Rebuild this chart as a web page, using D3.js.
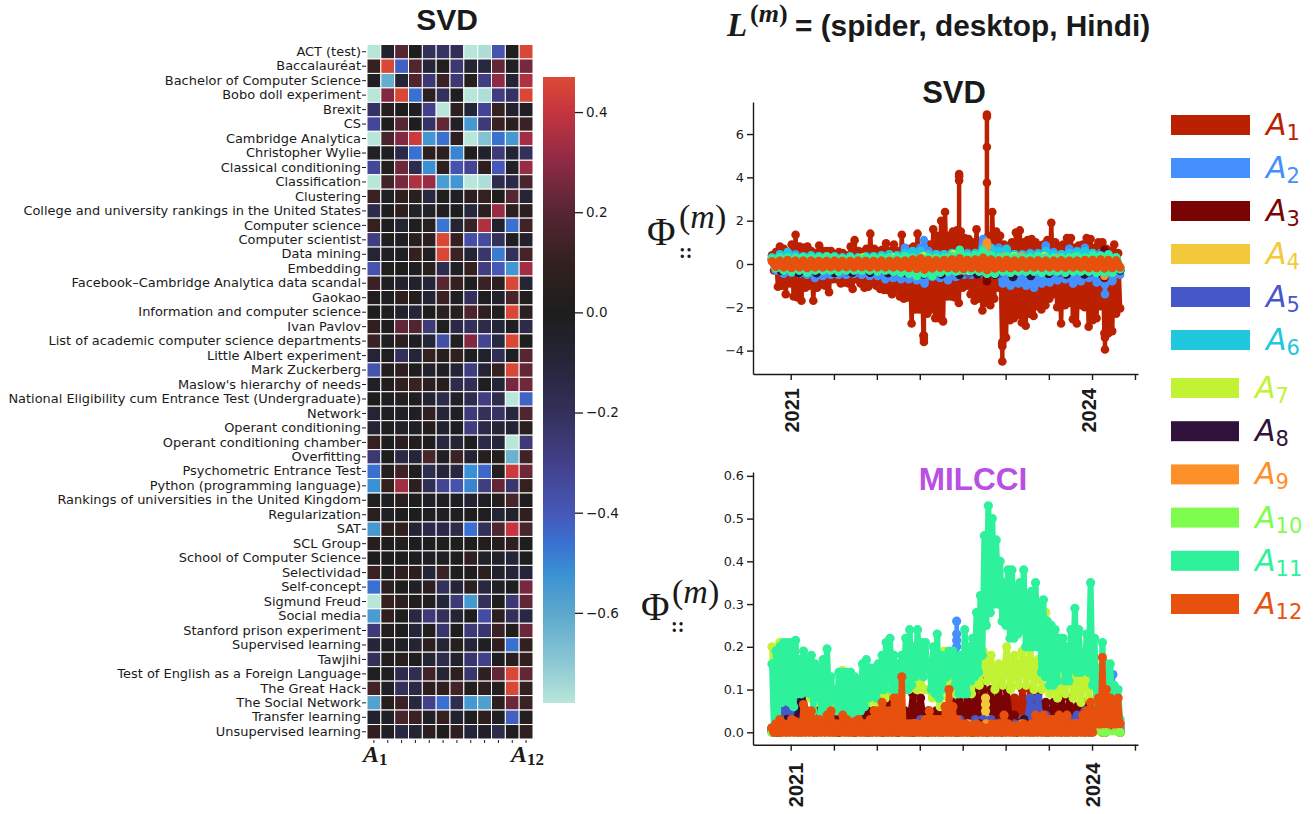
<!DOCTYPE html>
<html>
<head>
<meta charset="utf-8">
<style>
    body { margin: 0; background: #fff; }
    text { fill: #1a1a1a; }
    .axis path, .axis line { stroke: #1a1a1a; }
</style>
<script src="https://cdn.jsdelivr.net/npm/d3@7"></script>
</head>
<body>
<div id="chart"></div>
<script>
// ---- heatmap data
var terms = ["ACT (test)", "Baccalauréat", "Bachelor of Computer Science", "Bobo doll experiment", "Brexit", "CS",
    "Cambridge Analytica", "Christopher Wylie", "Classical conditioning", "Classification", "Clustering",
    "College and university rankings in the United States", "Computer science", "Computer scientist", "Data mining",
    "Embedding", "Facebook–Cambridge Analytica data scandal", "Gaokao", "Information and computer science",
    "Ivan Pavlov", "List of academic computer science departments", "Little Albert experiment", "Mark Zuckerberg",
    "Maslow's hierarchy of needs", "National Eligibility cum Entrance Test (Undergraduate)", "Network",
    "Operant conditioning", "Operant conditioning chamber", "Overfitting", "Psychometric Entrance Test",
    "Python (programming language)", "Rankings of universities in the United Kingdom", "Regularization", "SAT",
    "SCL Group", "School of Computer Science", "Selectividad", "Self-concept", "Sigmund Freud", "Social media",
    "Stanford prison experiment", "Supervised learning", "Tawjihi", "Test of English as a Foreign Language",
    "The Great Hack", "The Social Network", "Transfer learning", "Unsupervised learning"];
var components = ["A1", "A2", "A3", "A4", "A5", "A6", "A7", "A8", "A9", "A10", "A11", "A12"];
var loadings = [
    [-.78, -.06, .2, 0, -.2, -.22, -.18, -.78, -.76, -.38, 0, .46],
    [.1, .46, -.42, .18, -.1, .02, -.25, -.08, -.12, .22, -.02, .26],
    [-.02, -.62, -.08, .18, -.25, .12, -.25, .04, -.28, .3, -.08, .36],
    [-.78, .28, .46, -.46, .06, -.2, -.01, -.78, -.76, -.28, -.22, .46],
    [-.22, .04, 0, -.02, -.3, -.78, .06, -.1, -.32, .1, -.06, -.02],
    [-.33, 0, .2, 0, -.22, .22, -.03, -.55, -.26, .11, .06, .12],
    [-.78, .16, .28, .42, -.54, -.46, .07, -.78, -.68, -.46, -.55, .34],
    [-.03, -.01, -.14, -.46, .07, .06, -.5, .02, -.05, -.26, -.08, -.2],
    [-.33, .03, .24, -.16, -.52, .06, -.38, -.32, .07, -.4, -.04, .32],
    [-.78, .14, .26, .36, .32, -.56, -.54, -.78, -.76, -.16, -.14, .16],
    [.12, -.03, .08, .05, -.12, .01, -.02, .07, .1, 0, .2, -.08],
    [-.15, 0, .07, -.05, -.04, .01, 0, -.12, .06, .32, .06, .06],
    [.1, 0, -.08, -.01, .05, -.47, -.08, .12, .36, -.06, -.46, .14],
    [-.28, .02, -.02, .05, .06, .46, .1, -.36, -.34, -.2, -.01, -.06],
    [-.08, -.02, -.01, .1, -.01, .46, .12, -.08, -.24, -.48, -.2, .15],
    [-.38, .02, 0, -.01, .05, -.16, -.03, .1, -.28, -.4, -.54, .34],
    [.12, -.02, -.06, -.05, -.1, .2, .1, 0, .12, .07, .46, -.08],
    [.02, -.01, .08, .03, -.08, .12, -.02, -.2, -.01, -.05, .16, .02],
    [0, 0, -.06, -.1, 0, .06, .04, .17, .08, .02, .46, .06],
    [.08, 0, .22, .18, -.26, .01, -.14, -.2, -.15, -.1, -.01, -.15],
    [.12, -.01, .07, -.01, -.08, -.36, -.02, .28, -.32, -.12, .46, 0],
    [-.08, -.01, -.2, -.1, .1, .04, .08, -.01, -.06, -.18, -.01, .2],
    [-.38, .03, .07, 0, -.06, -.02, -.08, -.28, -.08, .1, .46, .22],
    [-.03, .02, .09, .11, .06, .04, -.16, -.18, -.01, -.1, .26, .25],
    [0, -.01, .04, -.01, -.07, -.15, -.03, -.16, -.28, -.16, -.78, -.43],
    [-.08, -.01, -.03, -.02, .09, -.1, -.02, -.26, -.2, -.22, -.12, .18],
    [-.08, -.01, -.05, -.03, .03, -.06, 0, -.28, -.14, -.1, -.08, .05],
    [.1, 0, .07, .03, 0, -.12, -.08, 0, -.14, -.1, -.78, -.26],
    [-.25, 0, -.14, -.1, .16, -.02, .12, -.08, .04, .03, -.63, .14],
    [-.46, .03, .13, -.01, -.16, -.1, -.12, -.52, -.44, .03, .42, .24],
    [-.52, .1, .34, .07, -.18, -.32, -.38, -.5, -.28, .22, -.24, .1],
    [-.01, -.01, .05, 0, -.03, .01, -.01, -.07, -.01, .03, .16, 0],
    [.05, -.03, 0, 0, -.01, -.02, -.01, 0, -.01, -.08, -.05, .08],
    [-.55, .06, .08, -.08, -.14, -.14, -.15, -.46, -.2, .18, .4, .16],
    [.04, 0, .03, 0, 0, .01, 0, 0, .02, .03, .08, 0],
    [0, 0, 0, 0, -.03, -.02, 0, .08, -.05, -.04, -.1, 0],
    [.12, 0, .08, .07, -.1, .12, 0, .01, .06, -.06, -.1, -.1],
    [-.46, .05, 0, -.03, .06, -.2, -.08, .06, -.12, -.03, 0, .26],
    [-.78, .1, .06, .02, -.01, -.1, -.26, -.55, -.2, 0, -.25, .22],
    [-.56, .08, 0, -.13, -.26, -.2, -.08, -.01, -.35, .07, -.2, -.13],
    [-.26, .02, 0, -.1, .02, -.24, 0, -.26, -.24, .12, .02, .24],
    [-.1, -.01, -.03, -.08, .07, -.08, .04, -.1, -.02, .08, -.46, .09],
    [-.2, .02, .05, -.01, -.08, -.16, -.06, -.24, -.3, 0, .05, .08],
    [-.01, -.01, -.16, -.17, .14, -.08, .06, -.24, .08, .22, .46, .22],
    [.14, -.03, -.2, -.14, .07, .08, .14, .03, .07, .03, .46, .09],
    [-.58, .04, .12, -.12, -.3, -.46, -.17, -.55, -.57, .07, .24, .12],
    [-.06, -.03, .16, .12, -.03, .1, -.06, 0, .07, -.02, -.42, .03],
    [.08, -.02, -.13, -.08, .07, 0, .08, -.1, -.03, -.15, -.01, .08]
];
var barTicks = [-.6, -.4, -.2, 0, .2, .4];
var iceValues = [-.78, -.7, -.6, -.52, -.46, -.4, -.3, -.2, -.1, 0, .1, .2, .3, .4, .47];
var iceColors = ["#b8e6d9", "#8cc8d4", "#5ba8cc", "#3a90d3", "#3a70d0", "#4558b8", "#43408a", "#33305a", "#25253a",
    "#1e1e1e", "#33201f", "#562633", "#8d2a45", "#c4353f", "#dc4b35"];

// ---- time series, high and low envelopes
var startDate = new Date(2020, 9, 25);
var endDate = new Date(2024, 3, 12);
var monthTicks = ["2021-01-01", "2021-06-07", "2021-11-10", "2022-04-15", "2022-09-18", "2023-02-21", "2023-07-28", "2024-01-01", "2024-06-05"];
var svdTicks = [-4, -2, 0, 2, 4, 6];
var milcciTicks = [0, .1, .2, .3, .4, .5, .6];
var seriesNames = ["A1", "A2", "A3", "A4", "A5", "A6", "A7", "A8", "A9", "A10", "A11", "A12"];
var seriesColors = ["#bb2100", "#4490fe", "#7a0403", "#f3c83a", "#4658c9", "#1fc8de", "#c1f334", "#30123b", "#fe9029", "#7ffd4f", "#2ef19c", "#e8500e"];

var svdA1Hi = [.4, .55, .8, .7, .5, .9, 1.35, .8, .75, .8,
    .6, .5, .85, .6, .6, .6, .45, .55, .5, .4,
    .8, 1.1, .6, .55, .7, 1.4, .7, .6, .65, .95,
    .6, .9, .6, 1.35, .7, .7, .8, 1.4, .75, .7,
    .9, 1.6, 1.3, 2.0, 2.4, 1.3, 1.5, 1.55, 1.5, 1.2,
    1.15, 1.0, 1.6, 1.0, 1.1, 1.3, 2.4, 1.5, 1.3, .9,
    .8, 1.0, 1.45, 1.55, 1.0, 1.1, 1.15, 1.0, .85, .9,
    1.1, 1.9, 1.0, .8, .9, 1.2, 1.2, .75, .85, .9,
    1.2, 1.15, .75, 1.0, 1.0, .7, .6, .9, .5];
var svdA1Lo = [-.3, -1.05, -1.0, -1.4, -.9, -1.5, -1.55, -1.7, -1.1, -1.0,
    -1.7, -1.1, -.95, -1.0, -1.3, -.7, -.7, -.9, -.85, -.9,
    -1.15, -.7, -.9, -1.1, -1.05, -.8, -1.0, -1.15, -1.2, -1.2,
    -1.4, -1.2, -1.5, -1.6, -1.55, -2.75, -2.1, -2.1, -3.3, -2.3,
    -2.1, -2.5, -2.5, -2.65, -1.5, -1.5, -1.55, -1.8, -1.1, -1.0,
    -1.4, -1.7, -1.6, -2.15, -1.8, -1.9, -1.6, -1.1, -3.7, -3.4,
    -2.6, -2.5, -2.35, -2.7, -2.85, -2.3, -2.4, -1.95, -2.1, -1.9,
    -1.6, -1.4, -2.0, -2.75, -1.9, -1.8, -2.55, -2.75, -1.9, -2.0,
    -2.9, -2.6, -2.5, -1.95, -3.2, -3.2, -3.1, -2.3, -2.05];
var svdA2Hi = [.3, .35, .4, .45, .3, .3, .35, .3, .3, .3, .3, .3, .3, .35, .35, .4, .4, .75, .45, .75, .6, .45, .45,
    .5, .45, .5, .45, 1.15, .6, .75, .55, .45, .45, .5, .5, .85, .55, .45, .7, .6, .75, .5, .5, .45, .3];
var svdA2Lo = [-.3, -.45, -.4, -.45, -.5, -.65, -.55, -.5, -.5, -.5, -.45, -.5, -.55, -.55, -.7, -.65, -.7, -.7, -.75, -.9, -.6, -.65, -.75,
    -.6, -.5, -.5, -.45, -.5, -.5, -.9, -1.0, -.9, -1.0, -1.1, -.9, -.85, -.75, -.7, -.9, -.8, -.65, -.85, -.9, -.8, -.5];
var svdA3Hi = [.2, .25, .2, .25, .2, .25, .2, .3, .3, .3, .3, .35, .3, .4, .3, .3, .3, .35, .3, .25];
var svdA3Lo = [-.3, -.4, -.4, -.4, -.35, -.35, -.4, -.4, -.45, -.45, -.45, -.45, -.5, -.55, -.5, -.45, -.45, -.45, -.45, -.3];
var svdA4Hi = [.15, .2, .2, .2, .2, .25, .3, .3, .25, .25, .2, .15];
var svdA4Lo = [-.15, -.2, -.2, -.2, -.2, -.2, -.25, -.25, -.2, -.2, -.2, -.15];
var svdA5Hi = [.2, .25, .25, .25, .3, .3, .35, .35, .3, .3, .3, .2];
var svdA5Lo = [-.25, -.35, -.35, -.35, -.4, -.4, -.45, -.45, -.4, -.4, -.4, -.3];
var svdA6Hi = [.3, .45, .55, .35, .35, .4, .35, .3, .35, .3, .35, .3, .35, .35, .4, .45, .4, .5, .6, .6, .45, .45, .45,
    .5, .5, .45, .5, .75, .75, .6, .7, .45, .4, .45, .45, .6, .45, .45, .5, .55, .6, .5, .4, .45, .3];
var svdA6Lo = [-.2, -.25, -.25, -.2, -.25, -.25, -.2, -.25, -.25, -.2, -.25, -.2, -.25, -.25, -.3, -.3, -.25, -.3, -.3, -.3, -.3, -.25, -.25,
    -.25, -.25, -.3, -.3, -.3, -.3, -.3, -.3, -.25, -.3, -.25, -.3, -.25, -.3, -.25, -.3, -.25, -.3, -.25, -.3, -.25, -.2];
var svdA7Hi = [.2, .25, .25, .3, .3, .35, .45, .5, .35, .35, .3, .25];
var svdA7Lo = [-.15, -.2, -.2, -.2, -.25, -.25, -.3, -.3, -.25, -.25, -.2, -.15];
var svdA8Hi = [.2, .2, .2, .2, .2, .2, .2, .25, .25, .25, .25, .3, .3, .3, .25, .25, .25, .25, .25, .2];
var svdA8Lo = [-.3, -.42, -.42, -.4, -.4, -.4, -.42, -.42, -.48, -.48, -.5, -.48, -.5, -.6, -.55, -.45, -.48, -.48, -.5, -.3];
var svdA9Hi = [.15, .2, .2, .15, .2, .2, .2, .2, .25, .25, .35, .3, .3, .35, .35, .3, .3, .25, .25, .15];
var svdA9Lo = [-.15, -.2, -.25, -.2, -.2, -.25, -.25, -.3, -.3, -.3, -.3, -.25, -.3, -.3, -.25, -.25, -.25, -.25, -.3, -.15];
var svdA10Hi = [.15, .2, .2, .2, .2, .2, .2, .25, .2, .2, .2, .15];
var svdA10Lo = [-.15, -.2, -.2, -.2, -.2, -.2, -.2, -.2, -.2, -.2, -.2, -.15];
var svdA11Hi = [.25, .3, .3, .3, .3, .3, .3, .35, .3, .25, .3, .25, .3, .3, .3, .3, .3, .35, .3, .3, .3, .3, .3,
    .35, .65, .35, .4, .6, .4, .3, .35, .3, .3, .3, .35, .3, .3, .3, .3, .35, .3, .4, .35, .4, .3];
var svdA11Lo = [-.2, -.3, -.35, -.3, -.4, -.3, -.3, -.3, -.35, -.3, -.3, -.3, -.3, -.35, -.3, -.35, -.4, -.45, -.55, -.45, -.55, -.4, -.35,
    -.35, -.3, -.3, -.35, -.45, -.45, -.35, -.4, -.35, -.35, -.35, -.4, -.35, -.35, -.4, -.35, -.35, -.35, -.4, -.4, -.4, -.25];
var svdA12Hi = [.12, .15, .18, .15, .15, .15, .14, .14, .15, .14, .14, .15, .14, .14, .15, .14, .15, .15, .2, .25, .18, .16, .18,
    .2, .25, .18, .2, .28, .2, .16, .18, .15, .16, .15, .16, .15, .15, .16, .15, .15, .18, .18, .2, .18, .16];
var svdA12Lo = [-.12, -.15, -.18, -.15, -.18, -.15, -.15, -.14, -.15, -.14, -.15, -.14, -.15, -.15, -.15, -.15, -.15, -.18, -.22, -.25, -.2, -.16, -.18,
    -.2, -.22, -.18, -.2, -.28, -.2, -.18, -.18, -.16, -.16, -.15, -.16, -.15, -.16, -.16, -.15, -.15, -.18, -.18, -.2, -.18, -.16];

// single-day jumps that sit straight above or below one date
var svdPeakSeries = ["A1", "A1", "A1", "A1", "A1", "A2", "A2", "A3", "A3", "A9", "A9"];
var svdPeakDates = ["2022-12-15", "2022-09-05", "2023-02-09", "2022-04-30", "2024-02-17", "2022-04-30", "2024-02-17", "2022-12-15", "2024-02-15", "2022-12-15", "2024-02-15"];
var svdPeakValues = [[3.75, 5.4, 6.8, 6.9], [3.85, 4.05, 4.15], [-3.6, -3.8, -4.5], [-3.3, -3.45, -3.6], [-3.4, -3.95],
    [.8, 1.1], [-.95, -1.4], [-.6, -.8], [.65, -.65], [.8, 1.0], [-.55]];

var milcciA1Hi = [.01, .075, .075, .03, .03, .02, .03, .05, .02, .03, .02, .03, .05, .04, .07, .08, .06, .02, .03, .03, .04, .03, .04,
    .05, .04, .05, .05, .06, .05, .05, .06, .08, .1, .1, .06, .04, .04, .04, .05, .04, .04, .03, .03, .03, .02];
var milcciA1Lo = [0, .01, .01, .01, .01, .01, .01, .01, 0, .01, 0, .01, .01, .01, .01, .02, .01, 0, .01, .01, .01, .01, .01,
    .01, .01, .01, .01, .01, .01, .01, .01, .02, .03, .02, .01, .01, .01, .01, .01, .01, .01, .01, .01, .01, .01];
var milcciA2Hi = [.01, .05, .04, .03, .02, .02, .03, .02, .02, .02, .02, .03, .06, .03, .03, .03, .03, .02, .03, .03, .04, .03, .04,
    .1, .05, .04, .04, .04, .03, .03, .03, .03, .03, .03, .03, .04, .03, .03, .03, .04, .04, .04, .04, .08, .04];
var milcciA2Lo = [0, .01, .01, .01, .01, .01, .01, .01, 0, .01, .01, .01, .01, .01, .01, .01, .01, 0, .01, .01, .01, .01, .01,
    .02, .02, .01, .01, .01, .01, .01, .01, .01, .01, .01, .01, .01, .01, .01, .01, .01, .01, .01, .01, .02, .01];
var milcciA3Hi = [.005, .01, .02, .02, .02, .03, .05, .06, .04, .04, .03, .03, .06, .05, .07, .08, .07, .05, .09, .08, .05, .05, .06,
    .07, .09, .08, .1, .12, .1, .11, .1, .04, .02, .03, .09, .07, .07, .08, .08, .06, .07, .03, .02, .02, .01];
var milcciA3Lo = [0, .01, .01, .01, .01, .01, .01, .01, .01, .01, .01, .01, .01, .01, .01, .02, .02, .01, .02, .02, .01, .01, .01,
    .01, .02, .02, .02, .02, .01, .02, .02, .01, .01, .01, .02, .02, .02, .02, .02, .01, .02, .01, .01, .01, 0];
var milcciA4Hi = [.01, .02, .01, .01, .01, .01, .01, .01, .01, .01, .01, .01, .01, .01, .01, .02, .01, .01, .01, .01, .01];
var milcciA4Lo = [0, 0, 0, 0, 0, 0, 0, 0, 0, 0, 0, 0, 0, 0, 0, 0, 0, 0, 0, 0, 0];
var milcciA5Hi = [0, .05, .06, .08, .03, .02, .02, .02, .02, .02, .02, .02, .02, .03, .02, .02, .02, .02, .02, .03, .02, .02, .03,
    .03, .03, .02, .03, .03, .03, .02, .02, .02, .02, .08, .08, .04, .03, .03, .03, .04, .05, .03, .04, .04, .04];
var milcciA5Lo = [0, .01, .01, .01, .01, 0, .01, .01, 0, .01, 0, .01, .01, .01, .01, .01, .01, 0, .01, .01, .01, .01, .01,
    .01, .01, .01, .01, .01, .01, .01, .01, .01, .01, .02, .02, .02, .01, .01, .01, .01, .02, .01, .02, .02, .02];
var milcciA6Hi = [.01, .02, .01, .01, .01, .02, .01, .01, .01, .01, .01, .01, .01, .02, .01, .01, .01, .01, .01, .01];
var milcciA6Lo = [0, 0, 0, 0, 0, 0, 0, 0, 0, 0, 0, 0, 0, 0, 0, 0, 0, 0, 0, 0];
var milcciA7Hi = [.2, .21, .1, .1, .09, .08, .08, .07, .1, .145, .14, .1, .1, .08, .1, .19, .14, .12, .14, .12, .1, .09, .19,
    .12, .12, .14, .15, .19, .18, .16, .2, .18, .19, .2, .17, .28, .13, .13, .18, .14, .16, .17, .06, .05, .04];
var milcciA7Lo = [.01, .09, .09, .09, .08, .07, .07, .06, .06, .05, .05, .06, .07, .07, .08, .09, .09, .1, .1, .1, .08, .06, .08,
    .09, .09, .09, .11, .12, .1, .11, .1, .11, .11, .1, .1, .09, .08, .09, .08, .07, .08, .07, .02, .02, .02];
var milcciA8Hi = [.01, .03, .09, .03, .01, .02, .02, .02, .02, .01, .02, .02, .01, .02, .02, .02, .02, .03, .02, .02, .02, .01, .01, .01];
var milcciA8Lo = [0, .01, .02, .01, 0, 0, 0, 0, 0, 0, 0, 0, 0, 0, 0, 0, 0, .01, 0, 0, 0, 0, 0, 0];
var milcciA9Hi = [.01, .02, .01, .02, .02, .02, .02, .02, .02, .03, .03, .02, .02, .02, .02, .03, .02, .02, .02, .02];
var milcciA9Lo = [0, 0, 0, 0, 0, 0, 0, 0, 0, 0, 0, 0, 0, 0, 0, 0, 0, 0, 0, 0];
var milcciA10Hi = [0, 0, 0, 0, 0, 0, 0, 0, 0, 0, 0, 0];
var milcciA10Lo = [0, 0, 0, 0, 0, 0, 0, 0, 0, 0, 0, 0];
var milcciA11Hi = [.16, .19, .2, .21, .21, .21, .215, .17, .19, .17,
    .18, .16, .15, .17, .195, .13, .1, .14, .14, .14,
    .14, .13, .12, .16, .17, .15, .15, .16, .18, .21,
    .22, .18, .16, .18, .22, .24, .2, .24, .21, .21,
    .16, .2, .23, .18, .17, .19, .19, .17, .18, .24,
    .2, .22, .28, .32, .46, .53, .5, .45, .4, .35,
    .38, .38, .34, .35, .38, .32, .33, .35, .3, .31,
    .26, .25, .24, .22, .22, .2, .24, .29, .24, .18,
    .23, .35, .22, .15, .21, .16, .16, .11, .1];
var milcciA11Lo = [0, .03, .07, .08, .07, .06, .09, .09, .1, .09,
    .05, .08, .04, .05, .07, .08, .05, .06, .04, .04,
    .03, .03, .05, .06, .08, .09, .08, .1, .1, .12,
    .1, .08, .1, .12, .1, .11, .13, .14, .13, .15,
    .1, .09, .08, .1, .13, .14, .11, .09, .09, .09,
    .12, .13, .14, .18, .25, .28, .3, .3, .26, .25,
    .22, .22, .23, .24, .2, .2, .2, .2, .14, .13,
    .11, .11, .12, .15, .12, .12, .15, .14, .14, .15,
    .14, .11, .06, .07, .09, .07, .05, .05, .03];
var milcciA12Hi = [.01, .02, .03, .02, .015, .03, .025, .02, .065, .05,
    .05, .03, .03, .02, .04, .05, .02, .02, .04, .03,
    .02, .025, .03, .02, .02, .03, .05, .05, .07, .05,
    .05, .08, .08, .13, .02, .02, .02, .02, .02, .03,
    .05, .03, .03, .03, .06, .1, .06, .03, .02, .02,
    .015, .015, .02, .015, .01, .01, .02, .02, .02, .04,
    .02, .015, .015, .015, .02, .01, .02, .04, .03, .04,
    .03, .03, .03, .04, .03, .04, .02, .02, .02, .04,
    .05, .07, .05, .08, .175, .1, .08, .07, .08];
var milcciA12Lo = [0, 0, 0, 0, 0, 0, 0, 0, 0, 0,
    0, 0, 0, 0, 0, 0, 0, 0, 0, 0,
    0, 0, 0, 0, 0, 0, 0, 0, 0, 0,
    0, 0, 0, 0, 0, 0, 0, 0, 0, 0,
    0, 0, 0, 0, 0, 0, 0, 0, 0, 0,
    0, 0, 0, 0, 0, 0, 0, 0, 0, 0,
    0, 0, 0, 0, 0, 0, 0, 0, 0, 0,
    0, 0, 0, 0, 0, 0, 0, 0, 0, 0,
    0, 0, .02, .02, .02, .02, .02, .02, .02];

var milcciPeakSeries = ["A2", "A2", "A4"];
var milcciPeakDates = ["2022-08-27", "2024-03-17", "2022-12-10"];
var milcciPeakValues = [[.2, .215, .23, .26], [.11, .135], [.02, .035, .05, .065, .08]];

var svdHi = [svdA1Hi, svdA2Hi, svdA3Hi, svdA4Hi, svdA5Hi, svdA6Hi, svdA7Hi, svdA8Hi, svdA9Hi, svdA10Hi, svdA11Hi, svdA12Hi];
var svdLo = [svdA1Lo, svdA2Lo, svdA3Lo, svdA4Lo, svdA5Lo, svdA6Lo, svdA7Lo, svdA8Lo, svdA9Lo, svdA10Lo, svdA11Lo, svdA12Lo];
var milcciHi = [milcciA1Hi, milcciA2Hi, milcciA3Hi, milcciA4Hi, milcciA5Hi, milcciA6Hi, milcciA7Hi, milcciA8Hi, milcciA9Hi, milcciA10Hi, milcciA11Hi, milcciA12Hi];
var milcciLo = [milcciA1Lo, milcciA2Lo, milcciA3Lo, milcciA4Lo, milcciA5Lo, milcciA6Lo, milcciA7Lo, milcciA8Lo, milcciA9Lo, milcciA10Lo, milcciA11Lo, milcciA12Lo];

var sansBold = "'Liberation Sans', Arial, sans-serif";
var dejavu = "'DejaVu Sans', sans-serif";
var serif = "'Liberation Serif', 'DejaVu Serif', serif";
var parseDay = d3.timeParse("%Y-%m-%d");

var svg = d3.select("#chart").append("svg")
    .attr("width", 1314)
    .attr("height", 814)
    .style("display", "block");

// ---- heatmap
var color = d3.scaleLinear().domain(iceValues).range(iceColors);
var xCell = d3.scaleBand().domain(components).range([367, 533]);
var yCell = d3.scaleBand().domain(terms).range([44.5, 739]);

var cells = [];
loadings.forEach(function (row, i) {
    row.forEach(function (v, j) {
        cells.push({ term: terms[i], comp: components[j], value: v });
    });
});

svg.append("g").selectAll("rect")
    .data(cells)
    .enter().append("rect")
    .attr("x", function (d) { return xCell(d.comp); })
    .attr("y", function (d) { return yCell(d.term); })
    .attr("width", xCell.bandwidth())
    .attr("height", yCell.bandwidth())
    .attr("fill", function (d) { return color(d.value); })
    .attr("stroke", "#fff")
    .attr("stroke-width", 1);

var leftAxis = svg.append("g")
    .attr("class", "axis")
    .attr("transform", "translate(366,0)")
    .call(d3.axisLeft(yCell).tickSize(4).tickPadding(1));
leftAxis.select(".domain").remove();
leftAxis.selectAll("text").style("font-family", dejavu).style("font-size", "12.95px");

var bottomAxis = svg.append("g")
    .attr("class", "axis")
    .attr("transform", "translate(0,740)")
    .call(d3.axisBottom(xCell).tickSize(3).tickFormat(""));
bottomAxis.select(".domain").remove();

function boldComponent(x, y, sub) {
    var t = svg.append("text")
        .attr("x", x)
        .attr("y", y)
        .attr("font-family", serif)
        .attr("font-weight", "bold")
        .attr("font-style", "italic")
        .attr("font-size", 24)
        .text("A");
    t.append("tspan").attr("dy", 3).attr("font-size", 17).attr("font-style", "normal").text(sub);
}
boldComponent(363, 762, "1");
boldComponent(511, 762, "12");

// ---- colorbar
var yBar = d3.scaleLinear().domain([-.78, .47]).range([703, 77]);
var defs = svg.append("defs");
var grad = defs.append("linearGradient")
    .attr("id", "iceBar")
    .attr("x1", 0).attr("x2", 0).attr("y1", 1).attr("y2", 0);
grad.selectAll("stop")
    .data(iceValues)
    .enter().append("stop")
    .attr("offset", function (d) { return (d + .78) / 1.25; })
    .attr("stop-color", function (d) { return color(d); });
svg.append("rect")
    .attr("x", 543)
    .attr("y", 77)
    .attr("width", 32)
    .attr("height", 626)
    .attr("fill", "url(#iceBar)");
var barAxis = svg.append("g")
    .attr("class", "axis")
    .attr("transform", "translate(575,0)")
    .call(d3.axisRight(yBar).tickValues(barTicks).tickSize(8).tickPadding(3).tickFormat(d3.format(".1f")));
barAxis.select(".domain").remove();
barAxis.selectAll("text").style("font-family", dejavu).style("font-size", "13.5px");
barAxis.selectAll("line").attr("stroke-width", 1.3);

// ---- the two line panels
var xTime = d3.scaleTime()
    .domain([parseDay("2020-08-17"), parseDay("2024-06-16")])
    .range([753, 1138]);

function drawPanel(hiList, loList, yScale, yTicks, yFormat, bottom, peakSeries, peakDates, peakValues, labelShift, labelNudge, strokeA1, strokeRest, dot) {
    var line = d3.line()
        .x(function (d) { return xTime(d.date); })
        .y(function (d) { return yScale(d.value); });

    seriesNames.forEach(function (name, k) {
        var values = d3.merge(d3.zip(hiList[k], loList[k]));
        var pts = values.map(function (v, i) {
            return { date: new Date(+startDate + (endDate - startDate) * i / (values.length - 1)), value: v };
        });
        var g = svg.append("g").attr("class", "series-" + name);

        g.append("path")
            .attr("d", line(pts))
            .attr("fill", "none")
            .attr("stroke", seriesColors[k])
            .attr("stroke-linejoin", "round")
            .attr("stroke-width", k === 0 ? strokeA1 : strokeRest);
        g.selectAll("circle.pt")
            .data(pts)
            .enter().append("circle")
            .attr("class", "pt")
            .attr("cx", function (d) { return xTime(d.date); })
            .attr("cy", function (d) { return yScale(d.value); })
            .attr("r", dot)
            .attr("fill", seriesColors[k]);

        peakSeries.forEach(function (s, p) {
            if (s !== name) { return; }
            var day = parseDay(peakDates[p]);
            var far = d3.max(peakValues[p], Math.abs) === Math.abs(d3.min(peakValues[p])) ? d3.min(peakValues[p]) : d3.max(peakValues[p]);
            g.append("line")
                .attr("x1", xTime(day))
                .attr("x2", xTime(day))
                .attr("y1", yScale(0))
                .attr("y2", yScale(far))
                .attr("stroke", seriesColors[k])
                .attr("stroke-width", 4.5);
            g.selectAll("circle.peak" + p)
                .data(peakValues[p])
                .enter().append("circle")
                .attr("class", "peak" + p)
                .attr("cx", xTime(day))
                .attr("cy", function (d) { return yScale(d); })
                .attr("r", dot)
                .attr("fill", seriesColors[k]);
        });
    });

    var yAxis = svg.append("g")
        .attr("class", "axis")
        .attr("transform", "translate(753,0)")
        .call(d3.axisLeft(yScale).tickValues(yTicks).tickSize(6).tickPadding(3).tickSizeOuter(0).tickFormat(yFormat));
    yAxis.selectAll("text").style("font-family", dejavu).style("font-size", "12.8px");
    yAxis.selectAll("path, line").attr("stroke-width", 1.4);

    var xAxis = svg.append("g")
        .attr("class", "axis")
        .attr("transform", "translate(0," + bottom + ")")
        .call(d3.axisBottom(xTime)
            .tickValues(monthTicks.map(parseDay))
            .tickSize(6)
            .tickSizeOuter(0)
            .tickFormat(function (d) {
                return d.getMonth() === 0 && (d.getFullYear() === 2021 || d.getFullYear() === 2024) ? d.getFullYear() : "";
            }));
    xAxis.selectAll("path, line").attr("stroke-width", 1.4);
    xAxis.selectAll("text")
        .style("font-family", sansBold)
        .style("font-weight", "bold")
        .style("font-size", "20px")
        .attr("text-anchor", "end")
        .attr("transform", "rotate(-90)")
        .attr("x", -labelShift)
        .attr("y", function (d) { return d.getFullYear() === 2021 ? labelNudge[0] : labelNudge[1]; })
        .attr("dy", "0.36em");
}

var ySvd = d3.scaleLinear().domain([-5.08, 7.48]).range([374, 102]);
var yMilcci = d3.scaleLinear().domain([-.029, .609]).range([744.7, 472]);

drawPanel(svdHi, svdLo, ySvd, svdTicks, d3.format("d"), 374, svdPeakSeries, svdPeakDates, svdPeakValues, 14, [1, -4], 4.5, 8, 4.3);
drawPanel(milcciHi, milcciLo, yMilcci, milcciTicks, d3.format(".1f"), 744.7, milcciPeakSeries, milcciPeakDates, milcciPeakValues, 18, [5, 0], 6, 6, 4.6);

// ---- Phi labels
function phiLabel(x, y, supX, supY, subX, subY) {
    svg.append("text").attr("x", x).attr("y", y)
        .attr("font-family", serif).attr("font-size", 39).text("Φ");
    var sup = svg.append("text").attr("x", supX).attr("y", supY)
        .attr("font-family", serif).attr("font-size", 34);
    sup.append("tspan").text("(");
    sup.append("tspan").attr("font-style", "italic").text("m");
    sup.append("tspan").text(")");
    svg.append("text").attr("x", subX).attr("y", subY)
        .attr("font-family", serif).attr("font-weight", "bold").attr("font-size", 20).text("::");
}
phiLabel(647, 245, 679, 228, 679, 258);
phiLabel(641, 620, 672, 603, 671, 632);

// ---- titles
svg.append("text").attr("x", 447).attr("y", 30).attr("text-anchor", "middle")
    .attr("font-family", sansBold).attr("font-weight", "bold").attr("font-size", 30).text("SVD");
svg.append("text").attr("x", 954).attr("y", 103).attr("text-anchor", "middle")
    .attr("font-family", sansBold).attr("font-weight", "bold").attr("font-size", 31).text("SVD");
svg.append("text").attr("x", 973).attr("y", 490).attr("text-anchor", "middle")
    .attr("font-family", sansBold).attr("font-weight", "bold").attr("font-size", 31.5)
    .style("fill", "#b94fe3").text("MILCCI");

svg.append("text").attr("x", 727).attr("y", 36)
    .attr("font-family", serif).attr("font-weight", "bold").attr("font-style", "italic").attr("font-size", 33).text("L");
var mSup = svg.append("text").attr("x", 750).attr("y", 22)
    .attr("font-family", serif).attr("font-weight", "bold").attr("font-size", 26);
mSup.append("tspan").text("(");
mSup.append("tspan").attr("font-style", "italic").text("m");
mSup.append("tspan").text(")");
svg.append("text").attr("x", 795).attr("y", 36)
    .attr("font-family", sansBold).attr("font-weight", "bold").attr("font-size", 29.8)
    .text("= (spider, desktop, Hindi)");

// ---- legend, two groups with slightly different swatch widths in the source
var legendY = d3.scalePoint().domain(seriesNames.slice(0, 6)).range([125, 340]);
var legendY2 = d3.scalePoint().domain(seriesNames.slice(6)).range([388, 604]);

seriesNames.forEach(function (name, k) {
    var first = k < 6;
    var y = first ? legendY(name) : legendY2(name);
    var w = first ? 79 : 68;
    var tx = first ? 1266 : 1255;
    svg.append("rect")
        .attr("x", 1171)
        .attr("y", y - 10)
        .attr("width", w)
        .attr("height", 20)
        .attr("fill", seriesColors[k]);
    var t = svg.append("text")
        .attr("x", tx)
        .attr("y", y + 10)
        .attr("font-family", dejavu)
        .attr("font-size", 30)
        .attr("font-style", "italic")
        .style("fill", seriesColors[k])
        .text("A");
    t.append("tspan")
        .attr("dy", 5)
        .attr("font-size", 21)
        .attr("font-style", "normal")
        .style("fill", seriesColors[k])
        .text(name.slice(1));
});
</script>
</body>
</html>
